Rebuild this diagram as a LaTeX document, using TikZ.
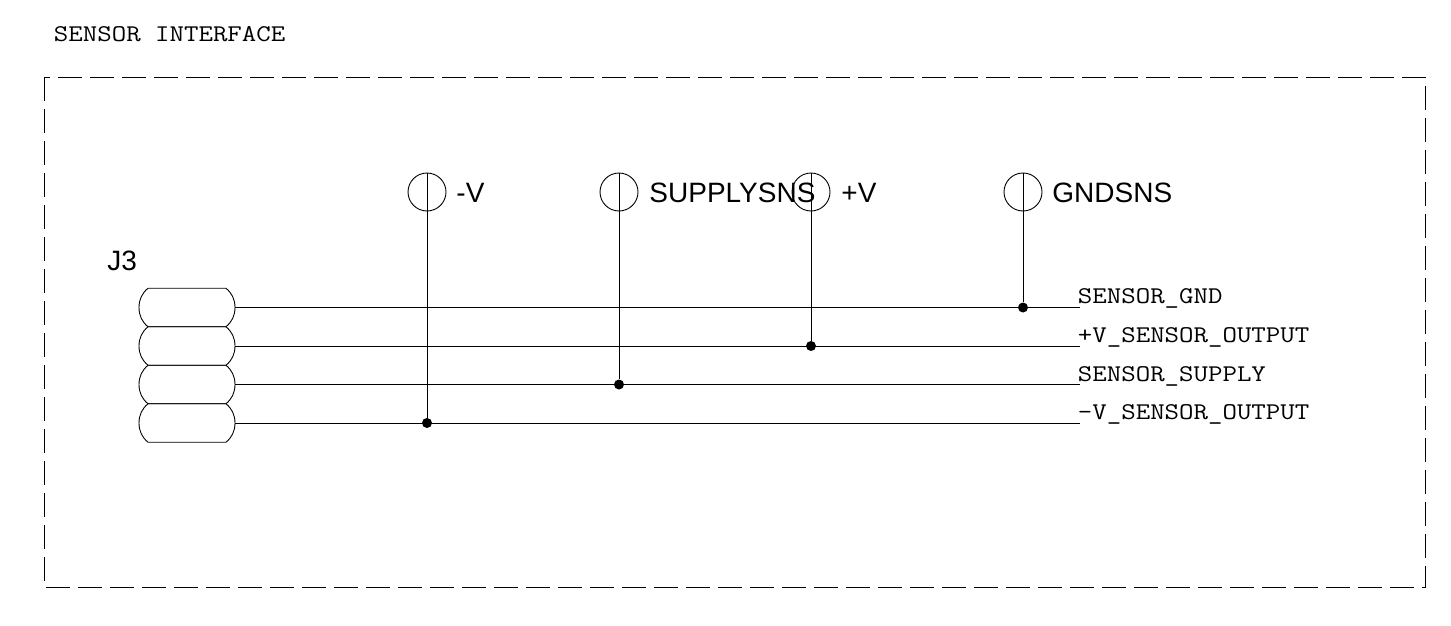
\documentclass[tikz,border=0pt]{standalone}
\usepackage{fontspec}
\setmainfont{Liberation Sans}
\newfontfamily\netfont[FakeStretch=1.17]{Latin Modern Mono}
\tikzset{
x=1pt, y=-1pt, % one unit is one pixel of the sheet, y runs down
frame/.style={dash pattern=on 24pt off 8pt},
pad/.style={minimum width=96pt, minimum height=38.5pt, inner sep=0pt, outer sep=0pt}, % sets the size of one contact
pin/.style={circle, draw, minimum size=38pt, inner sep=0pt, outer sep=0pt},
dot/.style={circle, fill=black, minimum size=10pt, inner sep=0pt},
netname/.style={anchor=base west, inner sep=0pt, font=\netfont\fontsize{24}{24}\selectfont},
pinname/.style={anchor=base west, inner sep=0pt, font=\fontsize{28}{28}\selectfont},
}
% outline of one contact of the connector
\newcommand{\padoutline}[1]{
    \draw ([xshift=9pt]#1.north west) -- ([xshift=-9pt]#1.north east)
    .. controls +(6,5) and +(0,-8) .. (#1.east)
    .. controls +(0,8) and +(6,-5) .. ([xshift=-9pt]#1.south east)
    -- ([xshift=9pt]#1.south west)
    .. controls +(-6,-5) and +(0,8) .. (#1.west)
    .. controls +(0,-8) and +(-6,5) .. ([xshift=9pt]#1.north west);
}

\begin{document}
\begin{tikzpicture}[line width=0.9pt]
    \useasboundingbox (0,0) rectangle (1451,626);

    \node[netname] (title) at (53.5,42) {SENSOR INTERFACE};
    \coordinate (boxa) at (44,77);
    \coordinate (boxb) at (1425,587);
    \draw[frame] (boxa) rectangle (boxb);

    \node[pinname] (j3) at (107,270) {J3};
    \node[pad] (p1) at (187,307.5) {};
    \node[pad] (p2) at (187,346) {};
    \node[pad] (p3) at (187,384.5) {};
    \node[pad] (p4) at (187,423) {};
    \padoutline{p1}
    \padoutline{p2}
    \padoutline{p3}
    \padoutline{p4}

    \coordinate (w1) at (1080,307.5);
    \coordinate (w2) at (1080,346);
    \coordinate (w3) at (1080,384.5);
    \coordinate (w4) at (1080,423);
    \draw
    (p1.east) -- (w1)
    (p2.east) -- (w2)
    (p3.east) -- (w3)
    (p4.east) -- (w4);

    \node[netname] (n1) at (1077.5,303) {SENSOR\_GND};
    \node[netname] (n2) at (1077.5,342) {+V\_SENSOR\_OUTPUT};
    \node[netname] (n3) at (1077.5,381) {SENSOR\_SUPPLY};
    \node[netname] (n4) at (1077.5,419) {-V\_SENSOR\_OUTPUT};

    \node[pin] (tpa) at (427,192) {};
    \node[pin] (tpb) at (619,192) {};
    \node[pin] (tpc) at (811,192) {};
    \node[pin] (tpd) at (1023,192) {};
    \node[pinname] (la) at (456,202) {-V};
    \node[pinname] (lb) at (649,202) {SUPPLYSNS};
    \node[pinname] (lc) at (841,202) {+V};
    \node[pinname] (ld) at (1052,202) {GNDSNS};

    \node[dot] (da) at (427,423) {};
    \node[dot] (db) at (619,384.5) {};
    \node[dot] (dc) at (811,346) {};
    \node[dot] (dd) at (1023,307.5) {};
    \draw
    (tpa.north) -- (da)
    (tpb.north) -- (db)
    (tpc.north) -- (dc)
    (tpd.north) -- (dd);
\end{tikzpicture}
\end{document}
